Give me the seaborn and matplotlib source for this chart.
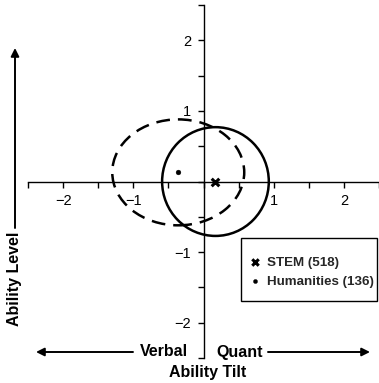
import matplotlib
matplotlib.use("Agg")
import matplotlib.pyplot as plt
import seaborn as sns
import pandas as pd
from matplotlib.patches import Ellipse, Rectangle
from matplotlib.ticker import MultipleLocator, FixedLocator

# group means and spread (ability tilt = quant - verbal, ability level)
groups = ["STEM (518)", "Humanities (136)"]
tilt_mean = [0.17, -0.36]
level_mean = [0.0, 0.13]
tilt_spread = [0.76, 0.94]
level_spread = [0.77, 0.75]
line_styles = ["-", (0, (5.5, 3.2))]

major_ticks = [-2, -1, 1, 2]

sns.set_style("white")
plt.rcParams["font.family"] = ["Liberation Sans", "DejaVu Sans"]

df = pd.DataFrame({"group": groups, "tilt": tilt_mean, "level": level_mean})

fig = plt.figure(figsize=(3.79, 3.83), dpi=100)
ax = fig.add_axes([0.074, 0.065, 0.926, 0.922])
ax.set_xlim(-2.5, 2.5)
ax.set_ylim(-2.5, 2.5)


def fp(x, y):
    # image pixel (from top-left) to figure fraction
    return (x / 379, 1 - y / 383)


# spread ellipses
for i, g in enumerate(groups):
    e = Ellipse((tilt_mean[i], level_mean[i]), 2 * tilt_spread[i], 2 * level_spread[i],
                fill=False, ec="black", lw=1.8, ls=line_styles[i], zorder=3)
    ax.add_patch(e)

# group means
sns.scatterplot(data=df.iloc[[0]], x="tilt", y="level", marker="x", s=30,
                color="black", linewidth=2.2, ax=ax, label=groups[0], zorder=4)
sns.scatterplot(data=df.iloc[[1]], x="tilt", y="level", marker="o", s=12,
                color="black", edgecolor="black", ax=ax, label=groups[1], zorder=4)

# axes through origin
for side in ["top", "right"]:
    ax.spines[side].set_visible(False)
for side in ["left", "bottom"]:
    ax.spines[side].set_position(("data", 0))
    ax.spines[side].set_linewidth(1.0)
    ax.spines[side].set_color("black")

ax.xaxis.set_major_locator(FixedLocator(major_ticks))
ax.yaxis.set_major_locator(FixedLocator(major_ticks))
ax.xaxis.set_minor_locator(MultipleLocator(0.5))
ax.yaxis.set_minor_locator(MultipleLocator(0.5))
ax.tick_params(which="both", direction="out", length=4, width=1.0, color="black",
               bottom=True, left=True)
ax.tick_params(which="major", labelsize=10.5, pad=5, labelcolor="black")
ax.set_xlabel("")
ax.set_ylabel("")

# legend box drawn separately so its padding can match
x0, y0 = fp(241, 301)
x1, y1 = fp(377, 238)
ax.add_patch(Rectangle((x0, y0), x1 - x0, y1 - y0, transform=fig.transFigure,
                       fill=True, fc="white", ec="black", lw=1.0, zorder=5,
                       clip_on=False))
leg = ax.legend(loc="center", bbox_to_anchor=fp(312, 272),
                bbox_transform=fig.transFigure, borderaxespad=0, borderpad=0,
                frameon=False, prop={"weight": "bold", "size": 9.6},
                labelspacing=0.5, handletextpad=0.5, handlelength=0.8,
                markerscale=0.85)
leg.set_zorder(6)

arrow = dict(arrowstyle="-|>", lw=1.4, color="black", mutation_scale=12,
             shrinkA=0, shrinkB=0)
ax.annotate("", xy=fp(15, 48), xytext=fp(15, 228), xycoords="figure fraction",
            textcoords="figure fraction", arrowprops=arrow)
ax.annotate("", xy=fp(36, 352), xytext=fp(133, 352), xycoords="figure fraction",
            textcoords="figure fraction", arrowprops=arrow)
ax.annotate("", xy=fp(370, 352), xytext=fp(268, 352), xycoords="figure fraction",
            textcoords="figure fraction", arrowprops=arrow)

bold = dict(weight="bold", size=11.5, color="black")
fig.text(*fp(15, 279), "Ability Level", rotation=90, ha="center", va="center", **bold)
fig.text(*fp(164, 352), "Verbal", ha="center", va="center", **bold)
fig.text(*fp(240, 352), "Quant", ha="center", va="center", **bold)
fig.text(*fp(208, 373), "Ability Tilt", ha="center", va="center", **bold)

fig.savefig("out.png", dpi=100)
